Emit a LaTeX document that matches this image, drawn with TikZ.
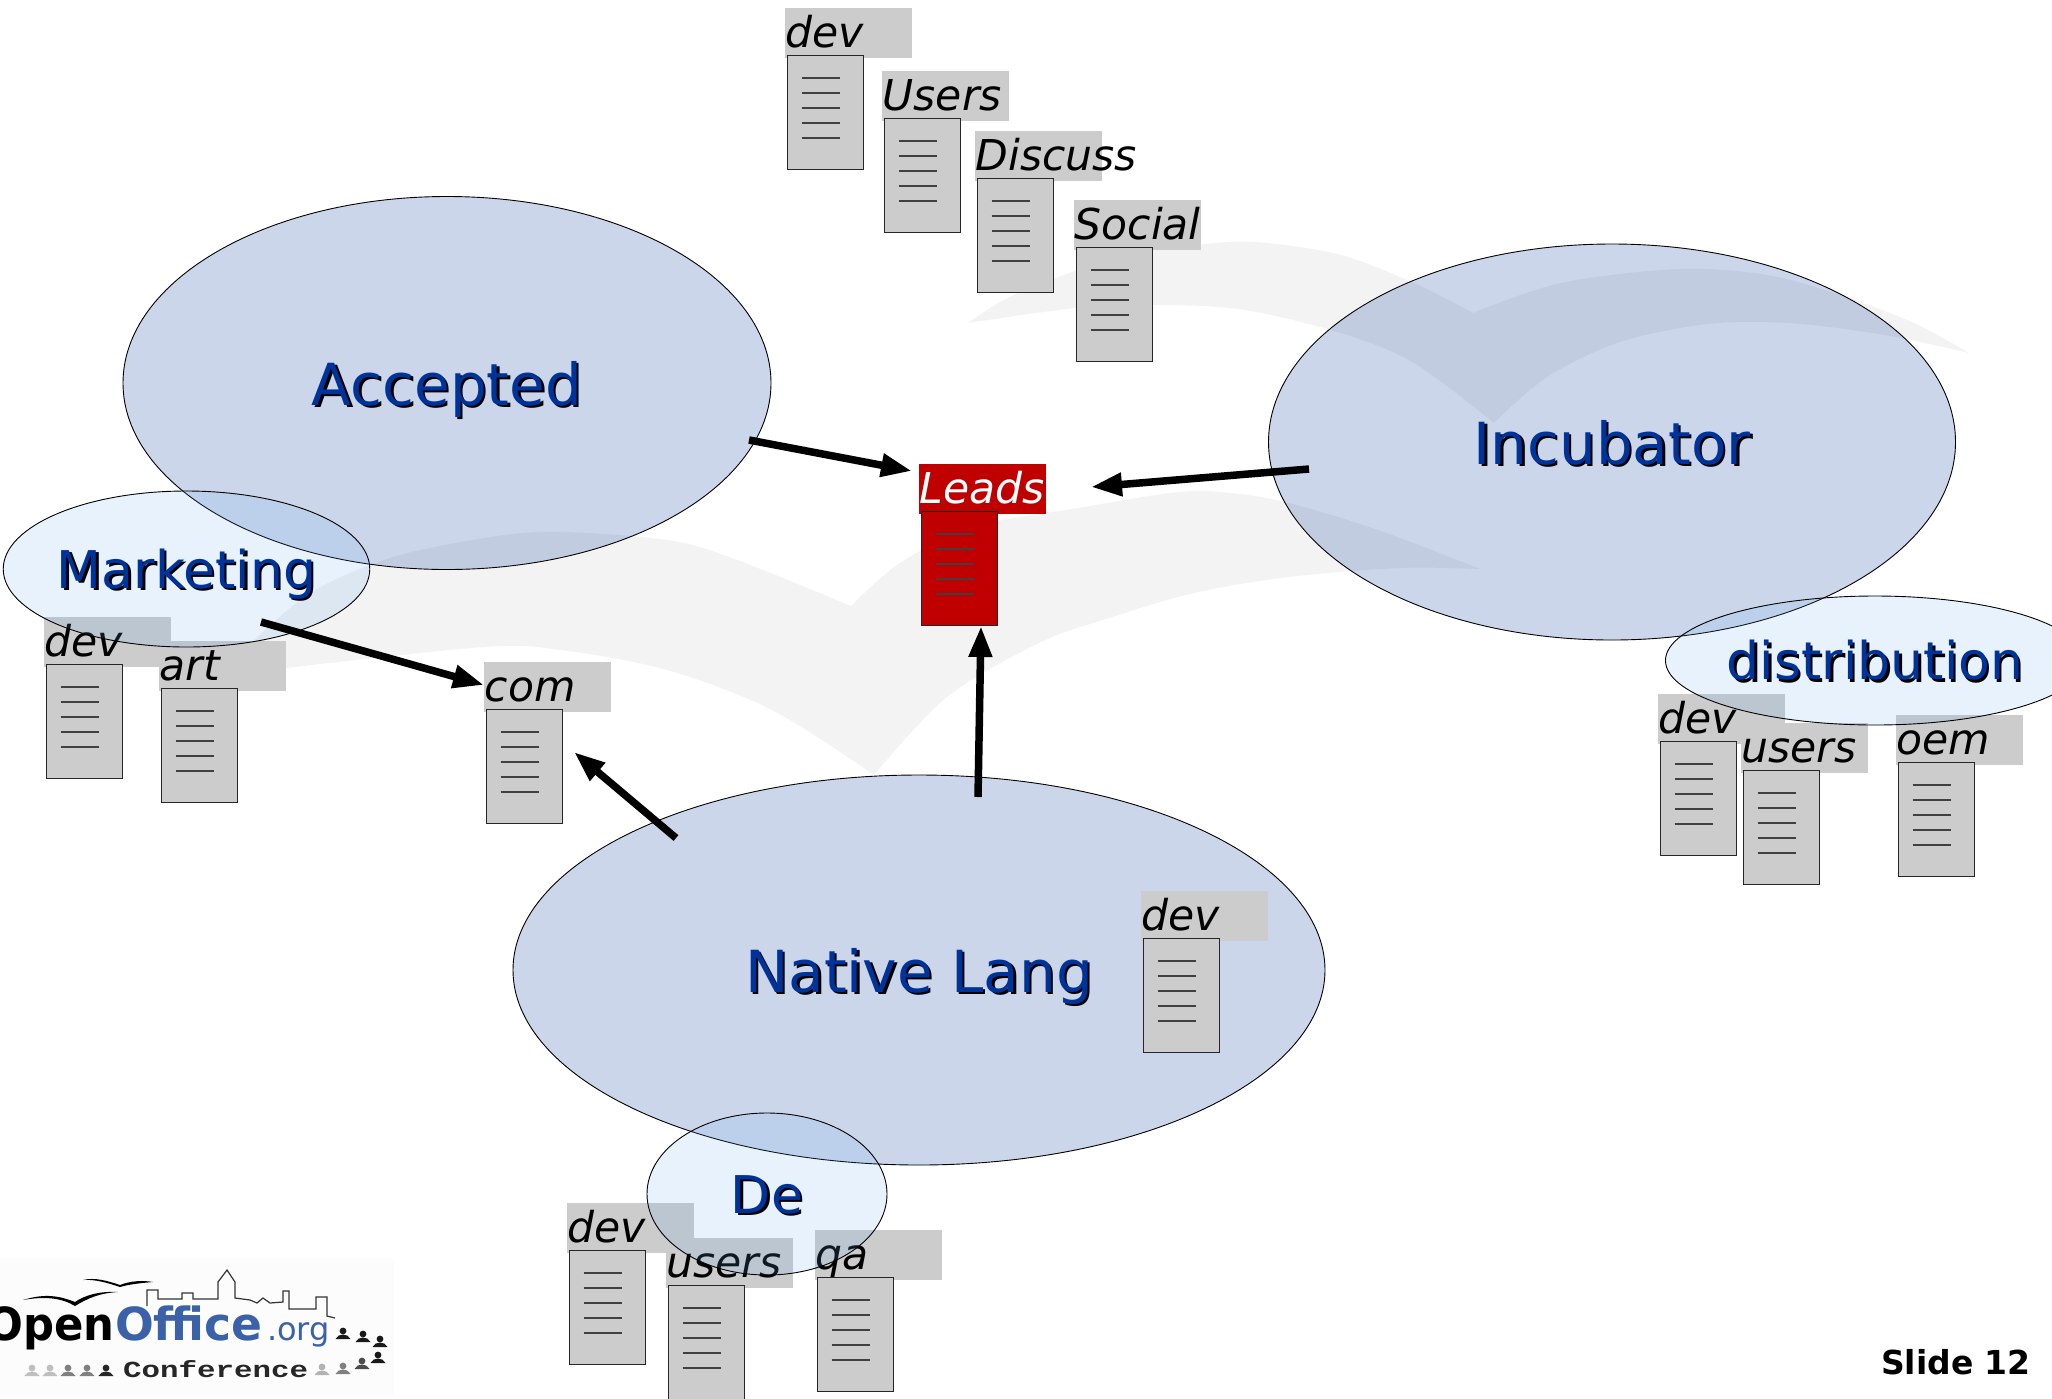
\documentclass[tikz,border=0pt]{standalone}
\usepackage{fontspec}
\setmainfont{DejaVu Sans}
\newfontfamily\slabfont{Liberation Mono}
\usetikzlibrary{shapes.geometric,arrows.meta,calc}
\definecolor{titleblue}{HTML}{003399}
\definecolor{logoblue}{HTML}{3B62A8}
\definecolor{docgray}{HTML}{CCCCCC}
\definecolor{leadred}{HTML}{C00000}
\definecolor{birdgray}{HTML}{F3F3F3}
\definecolor{lightblob}{RGB}{101,168,241}
\newcommand{\shadowed}[1]{\rlap{\kern2.5pt\raisebox{-2.5pt}{\textcolor{black}{#1}}}\textcolor{titleblue}{#1}}
\newcommand{\docitem}[6]{% id, x, y, text, fill colour, text colour
  \node[lbl,fill=#5,text=#6] (#1l) at (#2,#3) {#4};
  \node[docbox,fill=#5] (#1d) at (#2+1.5,#3+47) {};
  \foreach \k in {0,1,2,3,4}{
    \draw[docline] ($(#1d.north west)+(15,23+15*\k)$) -- ++(38,0);
  }
}
\newcommand{\person}[3]{%
  \fill[#3] (#1,#2-6) circle (3.4);
  \fill[#3] (#1-7.5,#2+2) .. controls (#1-5,#2-4) and (#1+5,#2-4) .. (#1+7.5,#2+2) -- cycle;
}
\tikzset{
  x=1pt,y=-1pt,
  lbl/.style={rectangle,anchor=north west,inner xsep=0.5pt,inner ysep=0pt,text width=126pt,
    text height=39.5pt,text depth=10.5pt,align=left,
    font=\fontsize{42.5}{46}\selectfont\itshape},
  docbox/.style={rectangle,anchor=north west,draw=black!85,line width=1.4pt,
    minimum width=76pt,minimum height=114pt,inner sep=0pt},
  docline/.style={black!75,line width=1.3pt},
  big/.style={ellipse,inner sep=0pt,draw=black,line width=0.9pt,fill=titleblue,fill opacity=0.2,
    draw opacity=1,text opacity=1,font=\fontsize{58}{60}\selectfont},
  small/.style={ellipse,inner sep=0pt,draw=black,line width=0.9pt,fill=lightblob,fill opacity=0.15,
    draw opacity=1,text opacity=1,font=\fontsize{52}{56}\selectfont},
  flow/.style={line width=7.5pt,-{Triangle[length=31pt,width=22pt]}},
}
\begin{document}
\begin{tikzpicture}
\clip (0,0) rectangle (2052,1398);
\useasboundingbox (0,0) rectangle (2052,1398);
\fill[white] (0,0) rectangle (2052,1398);

% background birds
\fill[birdgray] plot[smooth,tension=.55] coordinates {(968,323) (1018,293) (1120,257) (1216,243) (1267,243) (1341,255) (1414,283) (1473,313)}
  -- plot[smooth,tension=.55] coordinates {(1473,313) (1561,283) (1679,269) (1767,275) (1840,295) (1914,323) (1969,353)}
  -- plot[smooth,tension=.55] coordinates {(1969,353) (1885,335) (1789,323) (1708,324) (1620,342) (1547,377) (1494,423)}
  -- plot[smooth,tension=.55] coordinates {(1494,423) (1414,363) (1341,333) (1245,310) (1165,305) (1084,307) (968,323)} -- cycle;
\fill[birdgray] plot[smooth,tension=.55] coordinates {(215,678) (300,600) (370,565) (435,547) (540,532) (667,540) (737,560) (851,606)}
  -- plot[smooth,tension=.55] coordinates {(851,606) (900,563) (973,527) (1084,507) (1179,492) (1231,493) (1289,503) (1378,530) (1480,569)}
  -- plot[smooth,tension=.55] coordinates {(1480,569) (1400,568) (1289,577) (1194,593) (1106,619) (1039,643) (947,697) (874,775)}
  -- plot[smooth,tension=.55] coordinates {(874,775) (772,710) (667,670) (561,650) (484,647) (286,668) (215,678)} -- cycle;

% logo
\fill[black!1] (0,1258) rectangle (394,1395);
\fill[black] (23,1300) .. controls (45,1293) and (60,1296) .. (75,1302) .. controls (85,1295) and (100,1291) .. (118,1292) .. controls (100,1293) and (88,1298) .. (75,1306) .. controls (62,1298) and (45,1296) .. (23,1300) -- cycle;
\fill[black] (83,1280) .. controls (95,1277) and (108,1281) .. (120,1285) .. controls (130,1281) and (142,1280) .. (153,1282) .. controls (142,1283) and (130,1284) .. (120,1287) .. controls (108,1283) and (95,1279) .. (83,1280) -- cycle;
\draw[black!80,line width=1.2pt] (147,1306) -- (147,1290) -- (158,1290) -- (158,1299) -- (182,1299) -- (182,1293) -- (193,1293) -- (193,1299) -- (218,1299) -- (218,1282) -- (227,1270) -- (235,1282) -- (235,1298) -- (250,1300) -- (257,1303) -- (263,1298) -- (270,1303) -- (283,1302) -- (283,1291) -- (289,1291) -- (289,1309) -- (316,1309) -- (316,1297) -- (327,1297) -- (327,1316) -- (335,1318);
\node[anchor=base east,inner sep=0pt,black] (logoOpen) at (115,1340) {\fontsize{45.6}{48}\selectfont\bfseries\scalebox{.95}[1]{Open}};
\node[anchor=base west,inner sep=0pt,text=logoblue] (logoOffice) at (logoOpen.base east) {\fontsize{45.6}{48}\selectfont\bfseries Office};
\node[anchor=base west,inner sep=0pt,text=logoblue] (logoOrg) at (267,1340) {\fontsize{32}{34}\selectfont .org};
\node[anchor=base west,inner sep=0pt,black!85] (logoConf) at (123,1377) {\slabfont\bfseries\fontsize{23}{25}\selectfont\scalebox{1.34}[1]{Conference}};
\person{32}{1374}{black!25}\person{50}{1374}{black!25}\person{68}{1374}{black!50}\person{87}{1374}{black!50}\person{106}{1374}{black!85}
\person{322}{1373}{black!30}\person{343}{1372}{black!50}\person{362}{1367}{black!70}\person{378}{1361}{black!90}
\person{343}{1337}{black!90}\person{363}{1340}{black!90}\person{380}{1345}{black!90}

% documents beneath the ellipses
\docitem{top}{785}{8}{dev}{docgray}{black}
\docitem{users}{882}{71}{Users}{docgray}{black}
\docitem{discuss}{975}{131}{Discuss}{docgray}{black}
\docitem{social}{1074}{200}{Social}{docgray}{black}
\docitem{mdev}{44}{617}{dev}{docgray}{black}
\docitem{mart}{159}{641}{art}{docgray}{black}
\docitem{com}{484}{662}{com}{docgray}{black}
\docitem{ddev}{1658}{694}{dev}{docgray}{black}
\docitem{dusers}{1741}{723}{users}{docgray}{black}
\docitem{doem}{1896}{715}{oem}{docgray}{black}
\docitem{gdev}{567}{1203}{dev}{docgray}{black}
\docitem{gusers}{666}{1238}{users}{docgray}{black}
\docitem{gqa}{815}{1230}{qa}{docgray}{black}

% ellipses
\node[big,minimum width=648pt,minimum height=373pt,text height=44pt,text depth=0pt] (accepted) at (447,383) {\shadowed{Accepted}};
\node[big,minimum width=687pt,minimum height=396pt,text height=44pt,text depth=0pt] (incubator) at (1612,442) {\shadowed{Incubator}};
\node[big,minimum width=812pt,minimum height=390pt,text height=44pt,text depth=0pt] (native) at (919,970) {\shadowed{Native Lang}};
\node[small,minimum width=354pt,minimum height=156pt,text height=38pt,text depth=0pt] (marketing) at (186.5,569) {\shadowed{Marketing}};
\node[small,minimum width=354pt,minimum height=129pt,text height=38pt,text depth=0pt] (distribution) at (1875,660.5) {\shadowed{distribution}};
\node[small,minimum width=240pt,minimum height=162pt,text height=38pt,text depth=0pt] (de) at (767,1194) {\shadowed{De}};

% documents above the ellipses
\docitem{ndev}{1141}{891}{dev}{docgray}{black}
\docitem{leads}{919}{464}{Leads}{leadred}{white}
\path (leadsl.south west) ++(2,0) coordinate (x);

% connectors
\coordinate (fromAccepted) at (749,440);
\coordinate (toLeadsLeft) at (912,471);
\coordinate (fromIncubator) at (1309,469);
\coordinate (toLeadsRight) at (1091,487);
\coordinate (fromMarketing) at (261,622);
\coordinate (toComTop) at (484,685);
\coordinate (fromNativeA) at (978,797);
\coordinate (toLeadsBottom) at (981,626);
\coordinate (fromNativeB) at (676,838);
\coordinate (toComSide) at (574,752);
\draw[flow] (fromAccepted) -- (toLeadsLeft);
\draw[flow] (fromIncubator) -- (toLeadsRight);
\draw[flow] (fromMarketing) -- (toComTop);
\draw[flow] (fromNativeA) -- (toLeadsBottom);
\draw[flow] (fromNativeB) -- (toComSide);

\node[anchor=base east,inner sep=0pt,font=\fontsize{33}{36}\selectfont\bfseries] (slide) at (2031,1374) {Slide 12};
\end{tikzpicture}
\end{document}
